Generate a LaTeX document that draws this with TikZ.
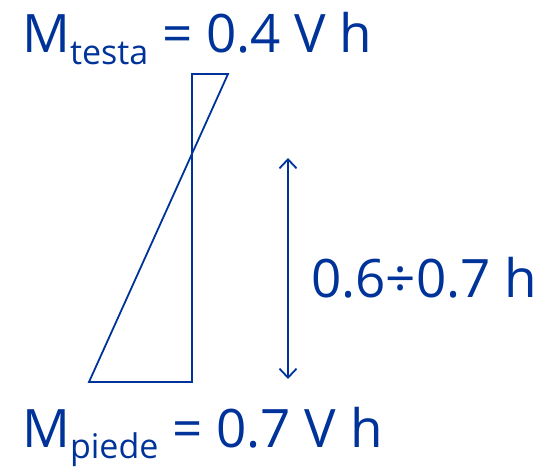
\documentclass[tikz,border=0pt]{standalone}
\usepackage{fontspec}
\setmainfont{Open Sans}
\usepackage{tikz}
\usetikzlibrary{positioning,arrows.meta,calc}
\definecolor{momblue}{RGB}{0,51,153}

\newcommand{\subtxt}[1]{\raisebox{-0.22em}{\fontsize{34}{36}\selectfont #1}}

\begin{document}
\begin{tikzpicture}[x=1pt, y=-1pt, >={Straight Barb[length=9pt,width=17pt]},
  every node/.style={text=momblue, inner sep=0pt},
  bigtxt/.style={font=\fontsize{53}{58}\selectfont, anchor=base west},
  momline/.style={draw=momblue, line width=1.8pt}]

\useasboundingbox (0,0) rectangle (549,468);

% Moment diagram along the column
\coordinate (testa) at (192,74);
\coordinate (piede) at (192,382);
\draw[momline] (piede) -- (testa) -- (228,74) -- (89,382) -- cycle;

% Length of the stressed zone
\coordinate (zt) at (288,158);
\coordinate (zb) at (288,379);
\draw[momline, <->] (zt) -- (zb);
\node[bigtxt, anchor=west] (zona) at (311,278) {0.6÷0.7 h};

% Moments at top and foot
\node[bigtxt] (mtop) at (22,53) {M\subtxt{testa} = 0.4 V h};
\node[bigtxt] (mbot) at (22,447) {M\subtxt{piede} = 0.7 V h};

\end{tikzpicture}
\end{document}
